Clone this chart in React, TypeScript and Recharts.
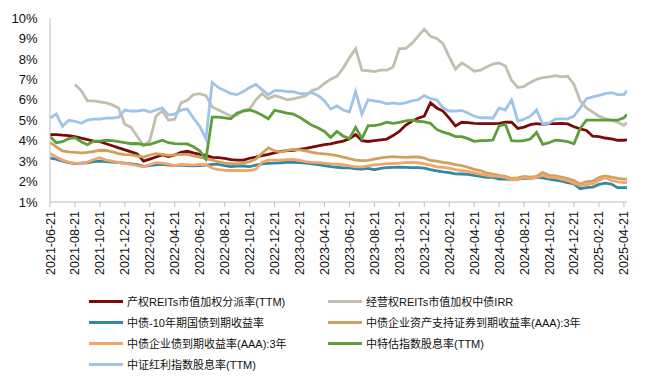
import React from "react";
import { LineChart, Line, XAxis, YAxis } from "recharts";

// x positions: months since 2021-06-21, half-month steps, plus last trading day
const months: number[] = Array.from({ length: 93 }, (_, i) => i / 2).concat([46.25]);

const tickLabels = [
  "2021-06-21", "2021-08-21", "2021-10-21", "2021-12-21", "2022-02-21", "2022-04-21",
  "2022-06-21", "2022-08-21", "2022-10-21", "2022-12-21", "2023-02-21", "2023-04-21",
  "2023-06-21", "2023-08-21", "2023-10-21", "2023-12-21", "2024-02-21", "2024-04-21",
  "2024-06-21", "2024-08-21", "2024-10-21", "2024-12-21", "2025-02-21", "2025-04-21",
];
const yTicks = [1, 2, 3, 4, 5, 6, 7, 8, 9, 10];

const seriesNames = [
  "产权REITs市值加权分派率(TTM)",
  "经营权REITs市值加权中债IRR",
  "中债-10年期国债到期收益率",
  "中债企业资产支持证券到期收益率(AAA):3年",
  "中债企业债到期收益率(AAA):3年",
  "中特估指数股息率(TTM)",
  "中证红利指数股息率(TTM)",
];
const seriesColors = ["#7B0A0A", "#C3BFAE", "#2F8AA3", "#CFA25C", "#F2A46A", "#5E9E3A", "#9EC4EA"];

const reitsEquity = [
  4.3, 4.3, 4.27, 4.25, 4.2, 4.12, 4.05, 3.98, 3.95, 3.85,
  3.75, 3.65, 3.55, 3.45, 3.35, 3.0, 3.1, 3.2, 3.3, 3.22,
  3.3, 3.43, 3.48, 3.4, 3.33, 3.28, 3.18, 3.17, 3.13, 3.07,
  3.05, 3.05, 3.14, 3.2, 3.27, 3.33, 3.4, 3.48, 3.51, 3.53,
  3.57, 3.62, 3.68, 3.75, 3.81, 3.84, 3.92, 3.98, 4.09, 4.3,
  4.0, 3.96, 4.0, 4.04, 4.08, 4.25, 4.45, 4.75, 4.95, 5.1,
  5.2, 5.85, 5.6, 5.45, 5.1, 4.72, 4.9, 4.88, 4.85, 4.83,
  4.83, 4.83, 4.85, 4.9, 4.9, 4.6, 4.66, 4.78, 4.83, 4.8,
  4.83, 4.83, 4.85, 4.82, 4.68, 4.58, 4.5, 4.22, 4.2, 4.13,
  4.09, 4.02, 4.02, 4.04,
];
const reitsConcession = [
  null, null, null, null, 6.75, 6.45, 5.95, 5.95, 5.9, 5.85,
  5.75, 5.6, 4.8, 4.65, 4.2, 3.75, 4.0, 5.2, 5.45, 5.0,
  5.05, 5.85, 5.97, 6.25, 6.3, 6.2, 5.65, 5.5, 5.35, 5.2,
  5.25, 5.48, 5.55, 6.0, 6.3, 6.05, 6.2, 6.12, 6.0, 6.05,
  6.12, 6.2, 6.45, 6.55, 6.8, 7.0, 7.15, 7.55, 8.05, 8.5,
  7.45, 7.42, 7.38, 7.45, 7.45, 7.6, 8.5, 8.5, 8.75, 9.1,
  9.45, 9.1, 9.0, 8.75, 8.1, 7.5, 7.8, 7.62, 7.4, 7.45,
  7.6, 7.75, 7.8, 7.65, 6.95, 6.6, 6.65, 6.85, 7.0, 7.08,
  7.12, 7.18, 7.12, 7.15, 6.75, 5.95, 5.6, 5.4, 5.2, 5.08,
  5.0, 4.9, 4.75, 4.88,
];
const govBond10y = [
  3.15, 3.1, 3.0, 2.92, 2.88, 2.9, 2.92, 2.97, 3.0, 2.97,
  2.95, 2.93, 2.9, 2.87, 2.83, 2.74, 2.78, 2.82, 2.84, 2.8,
  2.78, 2.8, 2.78, 2.77, 2.78, 2.8, 2.84, 2.84, 2.78, 2.73,
  2.75, 2.76, 2.73, 2.8, 2.86, 2.89, 2.9, 2.92, 2.94, 2.94,
  2.93, 2.9, 2.87, 2.83, 2.78, 2.73, 2.7, 2.67, 2.67, 2.62,
  2.61, 2.64, 2.58, 2.65, 2.68, 2.69, 2.7, 2.69, 2.68, 2.68,
  2.66, 2.58, 2.52, 2.47, 2.44, 2.38, 2.37, 2.35, 2.3, 2.25,
  2.2, 2.2, 2.12, 2.12, 2.1, 2.12, 2.16, 2.16, 2.2, 2.18,
  2.12, 2.07, 2.02, 1.95, 1.88, 1.65, 1.7, 1.73, 1.86, 1.92,
  1.88, 1.7, 1.7, 1.7,
];
const absAAA3y = [
  3.92, 3.7, 3.5, 3.45, 3.43, 3.4, 3.43, 3.47, 3.53, 3.52,
  3.45, 3.37, 3.32, 3.31, 3.25, 3.2, 3.3, 3.37, 3.33, 3.28,
  3.3, 3.33, 3.33, 3.25, 3.2, 3.12, 3.05, 2.96, 2.9, 2.88,
  2.86, 2.9, 2.97, 3.1, 3.38, 3.65, 3.5, 3.45, 3.53, 3.57,
  3.55, 3.5, 3.43, 3.38, 3.35, 3.32, 3.27, 3.2, 3.12, 3.05,
  3.02, 3.04, 3.1, 3.16, 3.2, 3.22, 3.2, 3.18, 3.2, 3.2,
  3.15, 3.03, 3.0, 2.94, 2.9, 2.83, 2.78, 2.7, 2.6, 2.53,
  2.42, 2.36, 2.3, 2.25, 2.15, 2.18, 2.25, 2.22, 2.25, 2.45,
  2.3, 2.28, 2.22, 2.15, 2.05, 1.88, 2.0, 2.02, 2.2, 2.28,
  2.22, 2.15, 2.12, 2.12,
];
const corpAAA3y = [
  3.38, 3.2, 3.05, 2.95, 2.9, 2.89, 2.95, 3.08, 3.17, 3.05,
  3.0, 2.93, 2.89, 2.84, 2.78, 2.72, 2.82, 2.92, 2.9, 2.85,
  2.78, 2.84, 2.83, 2.8, 2.84, 2.83, 2.65, 2.58, 2.55, 2.54,
  2.54, 2.53, 2.54, 2.6, 2.95, 3.05, 3.05, 3.05, 3.07, 3.08,
  3.03, 2.97, 2.94, 2.93, 2.9, 2.86, 2.85, 2.83, 2.77, 2.72,
  2.72, 2.77, 2.82, 2.84, 2.88, 2.88, 2.9, 2.93, 2.94, 2.92,
  2.86, 2.8, 2.72, 2.69, 2.66, 2.58, 2.54, 2.5, 2.42, 2.36,
  2.3, 2.27, 2.25, 2.2, 2.08, 2.1, 2.2, 2.15, 2.2, 2.3,
  2.2, 2.2, 2.12, 2.05, 1.92, 1.8, 1.85, 1.9, 2.05, 2.2,
  2.05, 1.98, 1.95, 1.95,
];
const ztgDividend = [
  4.2, 3.9, 3.95, 4.1, 4.15, 3.95, 3.8, 3.98, 3.98, 4.02,
  4.0, 3.95, 3.9, 3.85, 3.86, 3.8, 3.82, 3.92, 4.02, 3.9,
  3.86, 3.84, 3.84, 3.7, 3.5, 3.1, 5.15, 5.15, 5.12, 5.07,
  5.35, 5.45, 5.5, 5.4, 5.25, 5.07, 5.48, 5.42, 5.35, 5.3,
  5.15, 4.95, 4.75, 4.62, 4.45, 4.15, 4.45, 4.22, 4.1, 4.65,
  4.1, 4.74, 4.74, 4.8, 4.9, 4.85, 4.9, 4.97, 5.0, 4.95,
  4.92, 4.85, 4.55, 4.42, 4.33, 4.2, 4.2, 4.1, 3.97, 4.0,
  4.0, 4.03, 4.72, 4.8, 4.0, 3.98, 4.0, 4.08, 4.4, 3.82,
  3.9, 4.02, 4.0, 3.95, 3.85, 4.6, 5.0, 5.0, 5.0, 5.0,
  5.0, 5.0, 5.12, 5.28,
];
const csiDividend = [
  5.1, 5.3, 4.7, 5.0, 4.95, 4.85, 5.0, 5.05, 5.05, 5.1,
  5.1, 5.15, 5.5, 5.45, 5.45, 5.5, 5.4, 5.5, 5.6, 5.25,
  5.3, 5.5, 5.55, 5.1, 4.7, 4.1, 6.85, 6.6, 6.45, 6.3,
  6.25, 6.4, 6.6, 6.75, 6.5, 6.25, 6.45, 6.45, 6.4, 6.4,
  6.3, 6.3, 6.35, 6.2, 5.95, 5.55, 5.7, 5.5, 5.4, 6.4,
  5.3, 6.0, 5.95, 5.9, 5.8, 5.85, 5.8, 5.85, 5.95, 6.0,
  6.2, 6.05, 6.0, 5.6, 5.45, 5.45, 5.48, 5.35, 5.2, 5.12,
  5.12, 5.1, 5.6, 5.5, 6.0, 4.95, 5.05, 5.2, 5.5, 4.8,
  4.85, 5.05, 5.07, 5.07, 5.2, 5.6, 6.05, 6.14, 6.22, 6.3,
  6.35, 6.25, 6.25, 6.45,
];

const seriesValues = [reitsEquity, reitsConcession, govBond10y, absAAA3y, corpAAA3y, ztgDividend, csiDividend];
const keys = ["s0", "s1", "s2", "s3", "s4", "s5", "s6"];

const data = months.map((m, i) => {
  const row: Record<string, number | null> = { m };
  keys.forEach((k, j) => {
    row[k] = seriesValues[j][i];
  });
  return row;
});

const xTicks = tickLabels.map((_, i) => i * 2);

const FONT = '"Liberation Sans", Arial, "Noto Sans CJK SC", sans-serif';

const XTick = (props: any) => {
  const { x, payload } = props;
  const label = tickLabels[Math.round(payload.value / 2)];
  const ty = 211;
  return (
    <text
      x={x}
      y={ty}
      transform={`rotate(-90, ${x}, ${ty})`}
      textAnchor="end"
      dy="0.36em"
      fontSize={12.5}
      fontFamily={FONT}
      fill="#111"
    >
      {label}
    </text>
  );
};

const YTick = (props: any) => {
  const { y, payload } = props;
  return (
    <text x={37.5} y={y} textAnchor="end" dy="0.36em" fontSize={13} fontFamily={FONT} fill="#111">
      {`${payload.value}%`}
    </text>
  );
};

const legendPos = [
  { left: 89, top: 301 },
  { left: 328, top: 301 },
  { left: 89, top: 322 },
  { left: 328, top: 322 },
  { left: 89, top: 343 },
  { left: 328, top: 343 },
  { left: 89, top: 364 },
];

export default function App() {
  return (
    <div style={{ position: "absolute", left: 0, top: 0, width: 646, height: 383, background: "#fff" }}>
      <LineChart width={646} height={383} data={data} margin={{ top: 18, right: 19, bottom: 0, left: 0 }}>
        <XAxis
          dataKey="m"
          type="number"
          domain={[0, 46.25]}
          ticks={xTicks}
          interval={0}
          height={181}
          stroke="#BFBFBF"
          tickSize={5}
          tick={<XTick />}
          allowDataOverflow
        />
        <YAxis
          type="number"
          domain={[1, 10]}
          ticks={yTicks}
          interval={0}
          width={50}
          stroke="#BFBFBF"
          tickLine={false}
          tick={<YTick />}
          allowDataOverflow
        />
        {keys.map((k, j) => (
          <Line
            key={k}
            dataKey={k}
            name={seriesNames[j]}
            type="linear"
            stroke={seriesColors[j]}
            strokeWidth={2.8}
            dot={false}
            activeDot={false}
            isAnimationActive={false}
          />
        ))}
      </LineChart>
      {seriesNames.map((name, j) => (
        <div
          key={name}
          style={{
            position: "absolute",
            left: legendPos[j].left,
            top: legendPos[j].top - 8,
            height: 16,
            display: "flex",
            alignItems: "center",
            whiteSpace: "nowrap",
            fontFamily: FONT,
            fontSize: 11,
            color: "#111",
          }}
        >
          <span style={{ display: "inline-block", width: 34, height: 3, background: seriesColors[j], marginRight: 4 }} />
          <span>{name}</span>
        </div>
      ))}
    </div>
  );
}
